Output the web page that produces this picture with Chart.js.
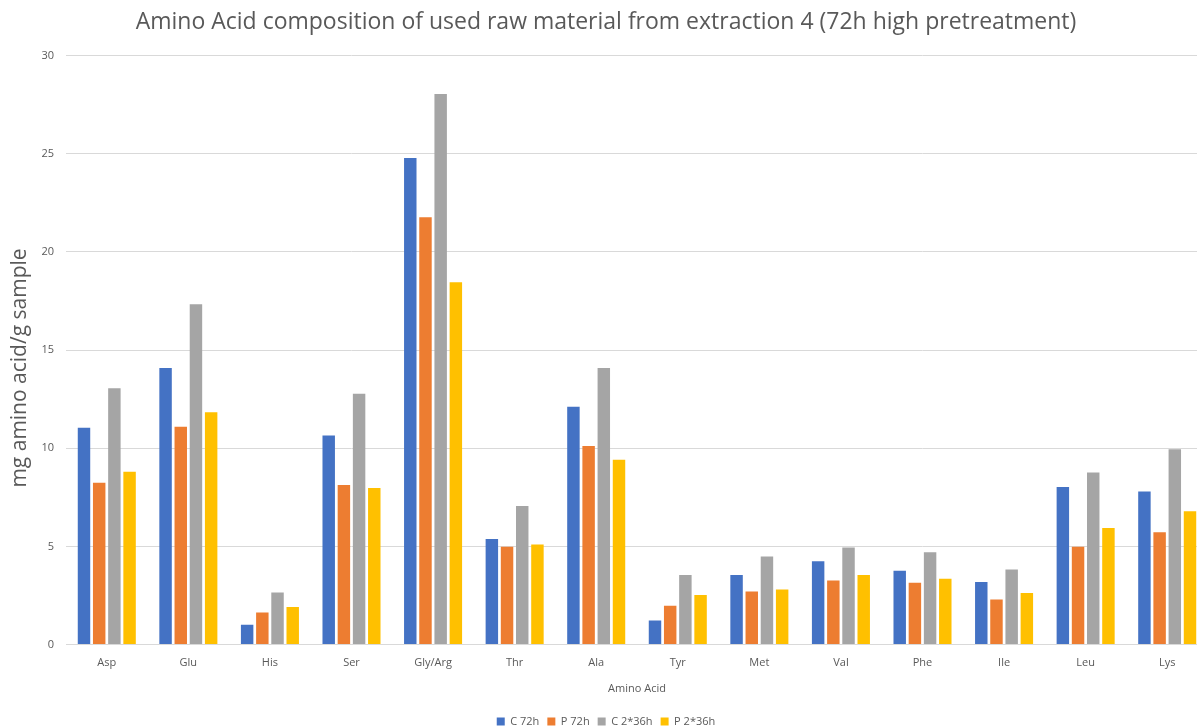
<!DOCTYPE html>
<html>
<head>
<meta charset="utf-8">
<script src="https://cdn.jsdelivr.net/npm/chart.js@4"></script>
<style>
  html, body { margin: 0; padding: 0; background: #fff; overflow: hidden; }
  #wrap { width: 1197px; height: 728px; overflow: hidden; }
</style>
</head>
<body>
<div id="wrap"><canvas id="aminoChart" width="1210" height="728"></canvas></div>
<script>
const categories = ['Asp', 'Glu', 'His', 'Ser', 'Gly/Arg', 'Thr', 'Ala', 'Tyr', 'Met', 'Val', 'Phe', 'Ile', 'Leu', 'Lys']

// values (mg amino acid / g sample)
const c72h = [11.04, 14.09, 1.01, 10.65, 24.79, 5.38, 12.11, 1.23, 3.54, 4.25, 3.76, 3.19, 8.03, 7.80]
const p72h = [8.25, 11.10, 1.64, 8.13, 21.77, 4.99, 10.11, 1.98, 2.71, 3.26, 3.15, 2.30, 4.99, 5.72]
const c2x36h = [13.06, 17.33, 2.65, 12.78, 28.04, 7.06, 14.09, 3.54, 4.49, 4.95, 4.71, 3.82, 8.77, 9.95]
const p2x36h = [8.80, 11.83, 1.92, 7.97, 18.46, 5.10, 9.42, 2.53, 2.81, 3.54, 3.36, 2.63, 5.94, 6.79]

const yTicks = [0, 5, 10, 15, 20, 25, 30]

const textGrey = '#595959'
const fontName = "'Open Sans', 'Liberation Sans', sans-serif"
const yTitleText = 'mg amino acid/g sample'

function makeSet(label, data, color) {
    return {
        label: label,
        data: data,
        backgroundColor: color,
        borderWidth: 0,
        categoryPercentage: 0.745,
        barPercentage: 0.82
    }
}

// the y title sits a bit below the middle in the original, so draw it by hand
const yTitlePlugin = {
    id: 'yTitle',
    afterDraw(chart) {
        const c = chart.ctx
        c.save()
        c.translate(20, 368)
        c.rotate(-Math.PI / 2)
        c.fillStyle = textGrey
        c.font = "21px " + fontName
        c.textAlign = 'center'
        c.textBaseline = 'middle'
        c.fillText(yTitleText, 0, 0)
        c.restore()
    }
}

const ctx = document.getElementById('aminoChart')

new Chart(ctx, {
    type: 'bar',
    data: {
        labels: categories,
        datasets: [
            makeSet('C 72h', c72h, '#4472C4'),
            makeSet('P 72h', p72h, '#ED7D31'),
            makeSet('C 2*36h', c2x36h, '#A5A5A5'),
            makeSet('P 2*36h', p2x36h, '#FFC000')
        ]
    },
    plugins: [yTitlePlugin],
    options: {
        responsive: false,
        animation: false,
        layout: { padding: { left: 4, right: 2, top: 4, bottom: -9 } },
        plugins: {
            title: {
                display: true,
                text: 'Amino Acid composition of used raw material from extraction 4 (72h high pretreatment)',
                color: textGrey,
                font: { family: fontName, size: 23, weight: 'normal' },
                padding: { top: 5, bottom: 19 }
            },
            legend: {
                position: 'bottom',
                labels: {
                    color: textGrey,
                    font: { family: fontName, size: 11 },
                    boxWidth: 8,
                    boxHeight: 8,
                    padding: 8
                }
            },
            tooltip: { enabled: false }
        },
        scales: {
            x: {
                grid: { display: false, drawTicks: false },
                border: { color: '#d9d9d9' },
                ticks: { color: textGrey, font: { family: fontName, size: 11 }, padding: 12 },
                title: {
                    display: true,
                    text: 'Amino Acid',
                    color: textGrey,
                    font: { family: fontName, size: 11 },
                    padding: { top: 0, bottom: 13 }
                }
            },
            y: {
                min: 0,
                max: 30,
                afterBuildTicks: scale => {
                    scale.ticks = yTicks.map(v => ({ value: v }))
                },
                grid: { color: '#d9d9d9', drawTicks: false },
                border: { display: false },
                ticks: { color: textGrey, font: { family: fontName, size: 11 }, padding: 12 },
                afterFit: scale => { scale.width = 62 }
            }
        }
    }
})
</script>
</body>
</html>
